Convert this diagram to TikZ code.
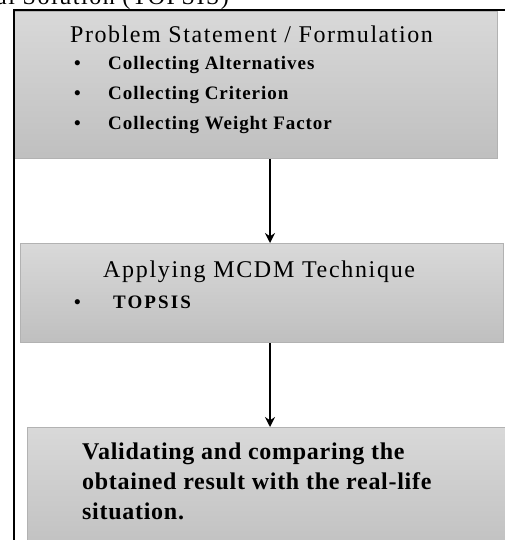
\documentclass[tikz,border=0pt]{standalone}
\usepackage{fontspec}
\setmainfont{Liberation Serif}
\usetikzlibrary{arrows.meta, positioning}
\begin{document}
\begin{tikzpicture}[
                x=1pt, y=-1pt,
                >={Stealth[length=10pt, width=10pt]},
                stage/.style={rectangle, draw=black!30, line width=1pt, top color=black!15, bottom color=black!25, inner sep=0pt, anchor=north west},
                heading/.style={font=\fontsize{24}{26}\selectfont\addfontfeatures{LetterSpace=6.5}, anchor=base west, inner sep=0pt},
                item/.style={font=\fontsize{19}{20}\selectfont\bfseries\addfontfeatures{LetterSpace=5}, anchor=base west, inner sep=0pt},
                flow/.style={draw, ->, line width=1.4pt}
            ]
                \clip (0,0) rectangle (505,540);

                % --- CAPTION (ABGESCHNITTEN) ---
                \node[heading] (caption) at (-4,5) {al Solution (TOPSIS)};

                % --- STUFEN ---
                \node[stage, minimum width=483pt, minimum height=147pt] (formulation) at (14,11) {};
                \node[stage, minimum width=483pt, minimum height=99pt] (technique) at (20,243) {};
                \node[stage, minimum width=490pt, minimum height=130pt] (validation) at (27,427) {};

                % --- TEXTE ---
                \node[heading] (formtitle) at (70,43) {Problem Statement / Formulation};
                \node[item] (dot1) at (74,70) {\textbullet};
                \node[item] (alternatives) at (108,70) {Collecting Alternatives};
                \node[item] (dot2) at (74,100) {\textbullet};
                \node[item] (criterion) at (108,100) {Collecting Criterion};
                \node[item] (dot3) at (74,130) {\textbullet};
                \node[item] (weight) at (108,130) {Collecting Weight Factor};

                \node[heading, font=\fontsize{24}{26}\selectfont\addfontfeatures{LetterSpace=7}] (techtitle) at (103,277) {Applying MCDM Technique};
                \node[item] (dot4) at (74,308) {\textbullet};
                \node[item, font=\fontsize{19}{20}\selectfont\bfseries\addfontfeatures{LetterSpace=11}] (topsis) at (113,308) {TOPSIS};

                \node[font=\fontsize{24}{30}\selectfont\bfseries\addfontfeatures{LetterSpace=3}, anchor=north west, inner sep=0pt, align=left] (result) at (82,443) {Validating and comparing the\\obtained result with the real-life\\situation.};

                % --- VERBINDUNGEN ---
                \coordinate (axis) at (270,0);
                \draw[flow] (formulation.south -| axis) -- (technique.north -| axis);
                \draw[flow] (technique.south -| axis) -- (validation.north -| axis);

                % --- RAHMEN ---
                \draw[line width=1.8pt] (14,540) -- (14,10) -- (506,10);
            \end{tikzpicture}
\end{document}
